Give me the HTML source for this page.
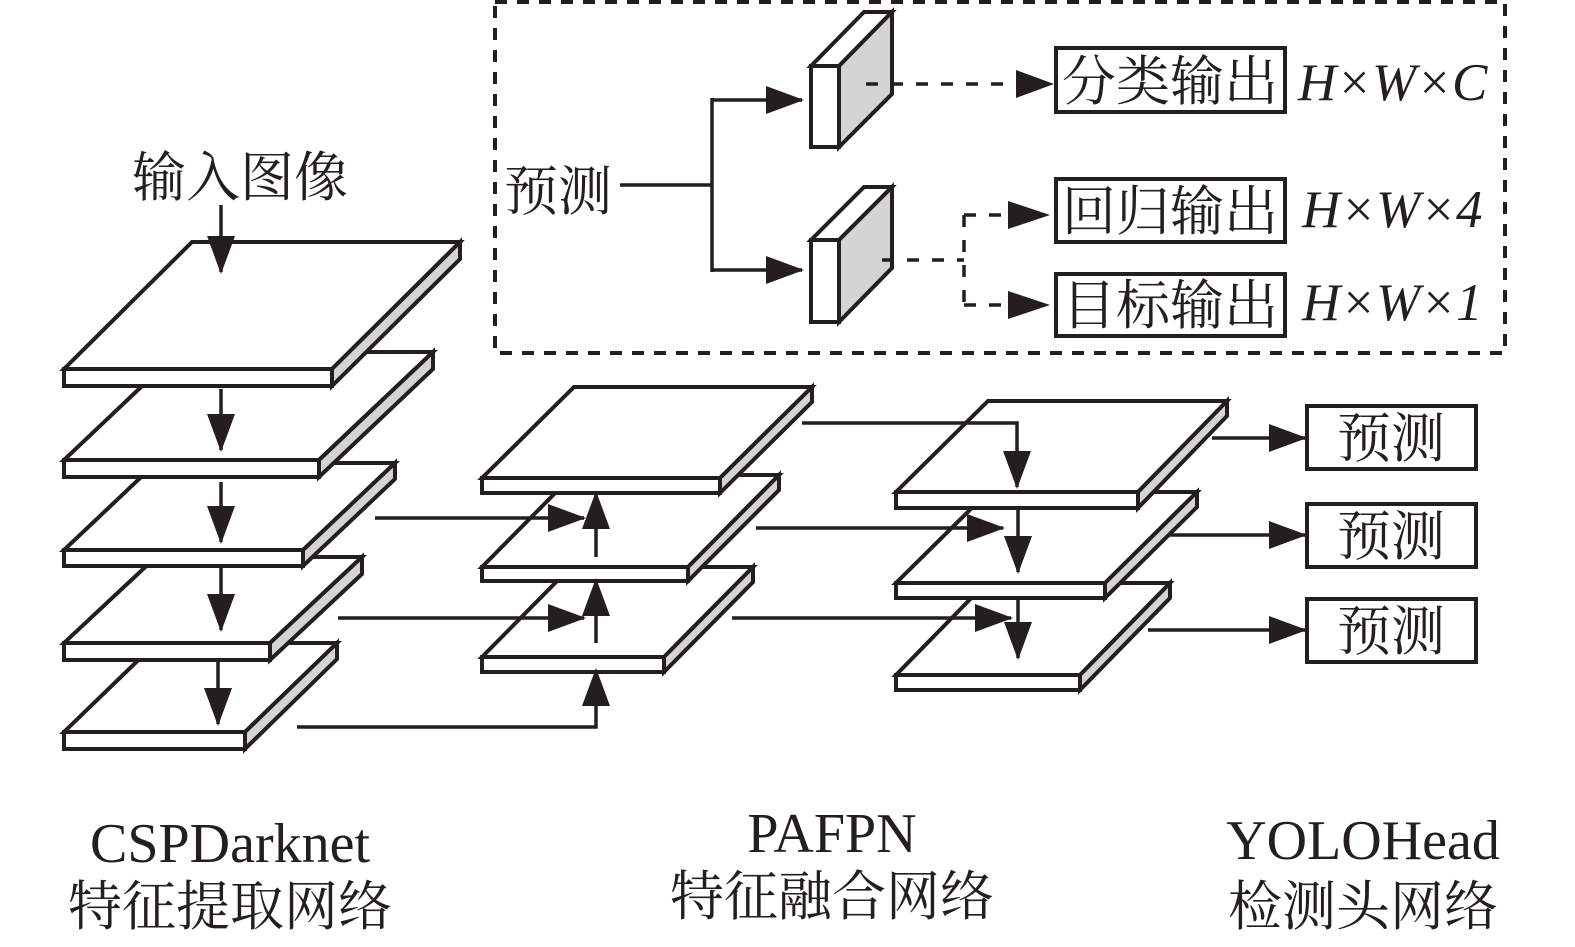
<!DOCTYPE html>
<html><head><meta charset="utf-8"><style>
html,body{margin:0;padding:0;background:#fff;}
svg{display:block;}
text{font-family:"Liberation Serif","Noto Serif CJK SC",serif;fill:#231f20;}
.cjk{font-family:"Noto Serif CJK SC","Liberation Serif",serif;}
</style></head><body>
<svg width="1575" height="947" viewBox="0 0 1575 947" xmlns="http://www.w3.org/2000/svg">
<defs>
<marker id="ah" markerWidth="38" markerHeight="28" refX="36" refY="14" orient="auto" markerUnits="userSpaceOnUse">
<path d="M0,0 L38,14 L0,28 Z" fill="#231f20"/></marker>
</defs>
<g stroke="#231f20" stroke-width="4" stroke-linejoin="miter" fill="#fff">
<polygon points="64,732 245,732 337,643 156,643"/><polygon points="245,732 337,643 337,659 245,749" fill="#d4d4d4"/><rect x="64" y="732" width="181" height="17"/>
<polygon points="64,643 270,643 362,557 156,557"/><polygon points="270,643 362,557 362,574 270,660" fill="#d4d4d4"/><rect x="64" y="643" width="206" height="17"/>
<polygon points="64,550 303,550 395,463 156,463"/><polygon points="303,550 395,463 395,479 303,566" fill="#d4d4d4"/><rect x="64" y="550" width="239" height="16"/>
<polygon points="64,460 319,460 433,352 178,352"/><polygon points="319,460 433,352 433,369 319,477" fill="#d4d4d4"/><rect x="64" y="460" width="255" height="17"/>
<polygon points="64,369 332,369 460,242 192,242"/><polygon points="332,369 460,242 460,259 332,386" fill="#d4d4d4"/><rect x="64" y="369" width="268" height="17"/>
<polygon points="482,657 664,657 753,567 571,567"/><polygon points="664,657 753,567 753,582 664,672" fill="#d4d4d4"/><rect x="482" y="657" width="182" height="15"/>
<polygon points="482,567 688,567 779,475 573,475"/><polygon points="688,567 779,475 779,490 688,581" fill="#d4d4d4"/><rect x="482" y="567" width="206" height="14"/>
<polygon points="482,478 720,478 812,387 574,387"/><polygon points="720,478 812,387 812,402 720,493" fill="#d4d4d4"/><rect x="482" y="478" width="238" height="15"/>
<polygon points="896,675 1080,675 1170,583 986,583"/><polygon points="1080,675 1170,583 1170,598 1080,690" fill="#d4d4d4"/><rect x="896" y="675" width="184" height="15"/>
<polygon points="896,583 1105,583 1197,492 988,492"/><polygon points="1105,583 1197,492 1197,507 1105,598" fill="#d4d4d4"/><rect x="896" y="583" width="209" height="15"/>
<polygon points="896,492 1138,492 1227,401 988,401"/><polygon points="1138,492 1227,401 1227,416 1138,508" fill="#d4d4d4"/><rect x="896" y="492" width="242" height="16"/>
</g>
<g stroke="#231f20" stroke-width="3.5" fill="none" marker-end="url(#ah)">
<line x1="221" y1="205" x2="221" y2="272"/>
<line x1="221" y1="389" x2="221" y2="450"/>
<line x1="221" y1="482" x2="221" y2="542"/>
<line x1="221" y1="568" x2="221" y2="630"/>
<line x1="218" y1="662" x2="218" y2="724"/>
<line x1="375" y1="518" x2="584" y2="518"/>
<line x1="338" y1="618" x2="584" y2="618"/>
<polyline points="297,727 596,727 596,670"/>
<line x1="596" y1="557" x2="596" y2="493"/>
<line x1="596" y1="643" x2="596" y2="580"/>
<polyline points="802,423 1017,423 1017,487"/>
<line x1="756" y1="528" x2="1003" y2="528"/>
<line x1="732" y1="618" x2="1011" y2="618"/>
<line x1="1018" y1="510" x2="1018" y2="572"/>
<line x1="1018" y1="600" x2="1018" y2="658"/>
<line x1="1212" y1="438" x2="1305" y2="438"/>
<line x1="1168" y1="535" x2="1305" y2="535"/>
<line x1="1148" y1="630" x2="1305" y2="630"/>
<polyline points="712,100 802,100"/>
<polyline points="712,270 802,270"/>
</g>
<line x1="620" y1="185" x2="712" y2="185" stroke="#231f20" stroke-width="3.5"/>
<line x1="712" y1="98" x2="712" y2="272" stroke="#231f20" stroke-width="3.5"/>
<rect x="495" y="2" width="1010" height="351" fill="none" stroke="#231f20" stroke-width="4" stroke-dasharray="12,10"/>
<g stroke="#231f20" stroke-width="4">
<polygon points="811,66 839,66 892,12 864,12" fill="#fff"/>
<polygon points="839,66 892,12 892,94 839,147" fill="#d4d4d4"/>
<rect x="811" y="66" width="28" height="81" fill="#fff"/>
<polygon points="811,240 839,240 892,187 864,187" fill="#fff"/>
<polygon points="839,240 892,187 892,268 839,322" fill="#d4d4d4"/>
<rect x="811" y="240" width="28" height="82" fill="#fff"/>
</g>
<g stroke="#231f20" stroke-width="3.5" fill="none" stroke-dasharray="12,13">
<line x1="866" y1="84" x2="1020" y2="84"/>
<line x1="882" y1="260" x2="964" y2="260"/>
<line x1="964" y1="215" x2="964" y2="305"/>
<line x1="964" y1="215" x2="1010" y2="215"/>
<line x1="964" y1="305" x2="1010" y2="305"/>
</g>
<g fill="#231f20">
<path d="M1016,70 L1054,84 L1016,98 Z"/>
<path d="M1008,201 L1050,215 L1008,229 Z"/>
<path d="M1008,291 L1050,305 L1008,319 Z"/>
</g>
<g fill="none" stroke="#231f20" stroke-width="4">
<rect x="1056" y="48" width="229" height="64"/>
<rect x="1056" y="179" width="229" height="63"/>
<rect x="1056" y="274" width="229" height="62"/>
<rect x="1307" y="406" width="169" height="63"/>
<rect x="1307" y="504" width="169" height="63"/>
<rect x="1307" y="599" width="169" height="63"/>
</g>
<g font-size="54">
<text x="1170" y="100" text-anchor="middle" class="cjk">分类输出</text>
<text x="1170" y="230" text-anchor="middle" class="cjk">回归输出</text>
<text x="1170" y="324" text-anchor="middle" class="cjk">目标输出</text>
<text x="1391" y="457" text-anchor="middle" class="cjk">预测</text>
<text x="1391" y="555" text-anchor="middle" class="cjk">预测</text>
<text x="1391" y="650" text-anchor="middle" class="cjk">预测</text>
<text x="558" y="210" text-anchor="middle" class="cjk">预测</text>
<text x="240" y="196" text-anchor="middle" class="cjk">输入图像</text>
</g>
<g font-size="53" font-style="italic">
<text x="1298" y="100">H×W×C</text>
<text x="1302" y="227">H×W×4</text>
<text x="1302" y="320">H×W×1</text>
</g>
<g font-size="56" text-anchor="middle">
<text x="230" y="862">CSPDarknet</text>
<text x="230" y="925" class="cjk" font-size="54">特征提取网络</text>
<text x="832" y="852">PAFPN</text>
<text x="832" y="915" class="cjk" font-size="54">特征融合网络</text>
<text x="1363" y="859">YOLOHead</text>
<text x="1363" y="925" class="cjk" font-size="54">检测头网络</text>
</g>
</svg>
</body></html>
